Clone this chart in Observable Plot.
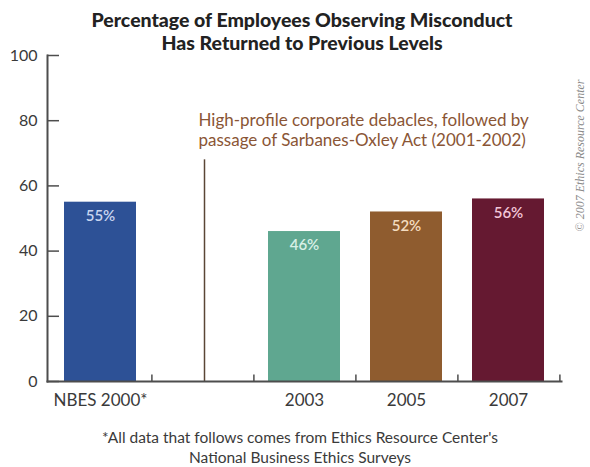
<!DOCTYPE html>
<html>
<head>
<meta charset="utf-8">
<script src="https://cdn.jsdelivr.net/npm/d3@7"></script>
<script src="https://cdn.jsdelivr.net/npm/@observablehq/plot@0.6"></script>
<style>
  body { margin: 0; background: #fff; font-family: "Gill Sans", Lato, "Open Sans", sans-serif; }
  #wrap { width: 590px; height: 467px; position: relative; overflow: hidden; }
  #title { height: 48px; box-sizing: border-box; padding-top: 8px; padding-left: 14px; text-align: center; font-weight: 900; font-size: 19.5px; line-height: 23px; color: #222; }
  #foot { text-align: center; font-size: 15.5px; line-height: 20px; color: #3a3a3a; padding-top: 9px; padding-left: 10px; }
</style>
</head>
<body>
<div id="wrap">
  <div id="title">Percentage of Employees Observing Misconduct<br>Has Returned to Previous Levels</div>
  <div id="chart"></div>
  <div id="foot">*All data that follows comes from Ethics Resource Center's<br>National Business Ethics Surveys</div>
</div>
<script>
// ---- data ----
const categories = ["NBES 2000*", "2003", "2005", "2007"];
const values = [55, 46, 52, 56];
const valueLabels = ["55%", "46%", "52%", "56%"];
const gapKey = " ";
const xDomain = [categories[0], gapKey, ...categories.slice(1)];
const yTicks = [0, 20, 40, 60, 80, 100];
const eventLabel = "High-profile corporate debacles, followed by\npassage of Sarbanes-Oxley Act (2001-2002)";
const eventLineTop = 68;
const eventTextY = 77.3;
const copyright = "\u00A9 2007 Ethics Resource Center";

// ---- styles ----
const barColors = ["#2d5196", "#5fa790", "#8f5c2f", "#651931"];
const labelColors = ["#c8d5f0", "#d8f0e6", "#f4dcc0", "#f2c6d8"];
const axisColor = "#4d4d4d";

const rows = categories.map((c, i) => ({category: c, value: values[i], label: valueLabels[i], color: barColors[i], labelColor: labelColors[i]}));

const W = 590, mL = 47, mR = 29;
const step = (W - mL - mR) / xDomain.length;

const chart = Plot.plot({
  width: W,
  height: 370,
  marginLeft: mL,
  marginRight: mR,
  marginTop: 7,
  marginBottom: 37,
  style: {fontFamily: "'Gill Sans', Lato, 'Open Sans', sans-serif", fontSize: "14px", color: "#3a3a3a", overflow: "visible", background: "transparent"},
  x: {domain: xDomain, paddingInner: 0.29, paddingOuter: 0.145, label: null},
  y: {domain: [0, 100], label: null},
  marks: [
    Plot.barY(rows, {x: "category", y: "value", fill: "color"}),
    Plot.text(rows, {x: "category", y: "value", text: "label", dy: 14, fill: "labelColor", fontSize: 15, fontWeight: 600}),
    // band boundary ticks on the x axis
    Plot.ruleX(xDomain, {x: d => d, y1: 0, y2: 2, dx: step / 2, stroke: axisColor, strokeWidth: 1.5}),
    // event line & annotation
    Plot.ruleX([gapKey], {x: d => d, y1: 0, y2: eventLineTop, dx: 2, stroke: "#5a4636", strokeWidth: 1.5}),
    Plot.text([eventLabel], {x: () => gapKey, y: () => eventTextY, text: d => d, dx: -4, textAnchor: "start", lineAnchor: "middle", lineHeight: 1.2, fontSize: 17, fill: "#8a5535"}),
    // axes
    Plot.frame({anchor: "left", stroke: axisColor, strokeWidth: 2}),
    Plot.frame({anchor: "bottom", stroke: axisColor, strokeWidth: 2}),
    Plot.axisY({ticks: yTicks, tickSize: 12, dx: 12, tickFormat: () => "", stroke: axisColor, strokeWidth: 1.5}),
    Plot.axisY({ticks: yTicks, tickSize: 0, tickPadding: 10, fontSize: 16, fill: "#3a3a3a"}),
    Plot.axisX({tickSize: 0, tickPadding: 12, fontSize: 17, fill: "#3a3a3a"}),
    // copyright
    Plot.text([copyright], {frameAnchor: "top-right", dx: 14, dy: 100, rotate: -90, textAnchor: "middle", text: d => d, fontSize: 12, fontStyle: "italic", fontFamily: "'Liberation Serif', 'DejaVu Serif', serif", fill: "#8a8a8a"})
  ]
});
document.getElementById("chart").appendChild(chart);
</script>
</body>
</html>
